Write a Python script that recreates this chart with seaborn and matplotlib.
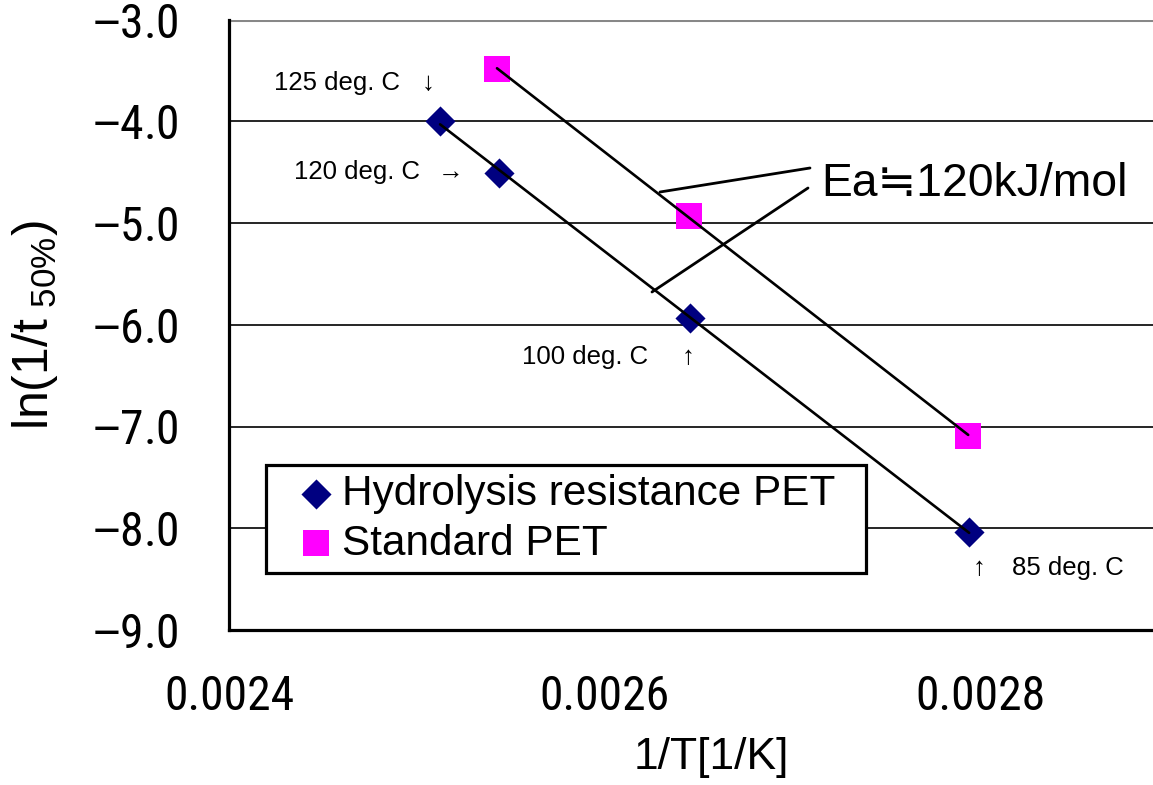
import numpy as np
import pandas as pd
import matplotlib
matplotlib.use("Agg")
import matplotlib.pyplot as plt
from matplotlib.lines import Line2D
from matplotlib import font_manager as fm
import seaborn as sns

# ---------------- data ----------------
series_names = ["Hydrolysis resistance PET", "Standard PET"]
hyd_x = [0.0025124, 0.0025438, 0.0026455, 0.0027941]
hyd_y = [-4.00, -4.51, -5.93, -8.04]
std_x = [0.0025427, 0.0026450, 0.0027936]
std_y = [-3.49, -4.93, -7.09]
temp_labels = ["125 deg. C", "120 deg. C", "100 deg. C", "85 deg. C"]
xticks = [0.0024, 0.0026, 0.0028]
xtick_labels = ["0.0024", "0.0026", "0.0028"]
yticks = [-9, -8, -7, -6, -5, -4, -3]
ytick_labels = ["9.0", "8.0", "7.0", "6.0", "5.0", "4.0", "3.0"]   # shown with a leading minus
ea_label = "Ea\u2252120kJ/mol"
x_label = "1/T[1/K]"
y_label = r"ln(1/t$_{\ 50\%}$)"

# ---------------- fonts ----------------
sns.set_theme(style="white")
installed = {f.name for f in fm.fontManager.ttflist}
narrow_pref = ["Liberation Sans Narrow", "Arial Narrow", "Roboto Condensed",
               "Open Sans Condensed", "Noto Sans Condensed", "DejaVu Sans Condensed"]
narrow = [n for n in narrow_pref if n in installed]
if not narrow:
    narrow = sorted(n for n in installed if ("Narrow" in n or "Condensed" in n)
                    and "Mono" not in n and "Serif" not in n)
narrow_fonts = narrow[:1] + ["Liberation Sans", "Noto Sans CJK JP", "DejaVu Sans"]
reg_fonts = ["Liberation Sans", "Noto Sans CJK JP", "DejaVu Sans"]
plt.rcParams["font.family"] = narrow_fonts
plt.rcParams["mathtext.default"] = "regular"
plt.rcParams["mathtext.fontset"] = "custom"
plt.rcParams["mathtext.rm"] = "Liberation Sans"
plt.rcParams["axes.unicode_minus"] = True
for k in ["text.color", "axes.labelcolor", "xtick.color", "ytick.color", "axes.edgecolor"]:
    plt.rcParams[k] = "black"

W, H = 1153, 785
fig = plt.figure(figsize=(W / 100, H / 100), dpi=100)
renderer = fig.canvas.get_renderer()


def fit_size(txt, fams, target_px, base=30.0):
    t = fig.text(0, 0, txt, fontsize=base, family=fams)
    w = t.get_window_extent(renderer=renderer).width
    t.remove()
    return base * target_px / w


tick_fs = min(fit_size("0.0024", narrow_fonts, 130), 37)
leg_fs = min(fit_size(series_names[0], reg_fonts, 492), 32)
ea_fs = min(fit_size(ea_label, reg_fonts, 306), 34)

ax = fig.add_axes([229 / W, 1 - 630 / H, 924 / W, 610.5 / H])

sns.scatterplot(x=hyd_x, y=hyd_y, marker="D", color="#000080", s=235, linewidth=0,
                ax=ax, label=series_names[0], zorder=3)
sns.scatterplot(x=std_x, y=std_y, marker="s", color="#FF00FF", s=360, linewidth=0,
                ax=ax, label=series_names[1], zorder=3)
# linear regression trend lines drawn above the markers
sns.regplot(x=hyd_x, y=hyd_y, scatter=False, ci=None, truncate=True, color="black",
            line_kws=dict(lw=1.9, zorder=4), ax=ax)
sns.regplot(x=std_x, y=std_y, scatter=False, ci=None, truncate=True, color="black",
            line_kws=dict(lw=1.9, zorder=4), ax=ax)

ax.set_xlim(0.0024, 0.002892)
ax.set_ylim(-9, -3)
ax.set_xticks(xticks)
ax.set_xticklabels(xtick_labels)
ax.set_yticks(yticks)
ax.set_yticklabels([r"$\mathrm{-}$" + s for s in ytick_labels])
ax.tick_params(axis="both", direction="in", length=13, width=2.2, colors="black",
               labelsize=tick_fs)
ax.tick_params(axis="y", pad=36)
ax.tick_params(axis="x", pad=32)

ax.yaxis.grid(True, color="black", lw=1.2, zorder=0)
ax.xaxis.grid(False)
ax.set_axisbelow(True)
for gl, v in zip(ax.get_ygridlines(), yticks):
    if v == -3:
        gl.set_color("#888888")
        gl.set_linewidth(2.2)

for s in ["top", "right"]:
    ax.spines[s].set_visible(False)
for s in ["left", "bottom"]:
    ax.spines[s].set_color("black")
    ax.spines[s].set_linewidth(2.3)

ax.set_xlabel(x_label, fontsize=32, family=reg_fonts)
ax.set_ylabel(y_label, fontsize=36, family=reg_fonts)
ax.yaxis.label.set_va("center")
ax.yaxis.set_label_coords((35 - 229) / 924, (630 - 325) / 610.5)
ax.xaxis.label.set_va("center")
ax.xaxis.set_label_coords((711 - 229) / 924, -(757 - 630) / 610.5)

# legend box: 266..866 x 465..572 px
leg = ax.legend(loc="upper left",
                bbox_to_anchor=((266 - 229) / 924, (630 - 572) / 610.5,
                                600 / 924, 107 / 610.5),
                mode="expand", frameon=True, fancybox=False, edgecolor="black",
                framealpha=1, prop=dict(family=reg_fonts, size=leg_fs),
                borderaxespad=0, borderpad=0.22, handletextpad=-0.36,
                labelspacing=0.22, handlelength=1.95, markerscale=1.0)
leg.get_frame().set_linewidth(2.3)
for t in leg.get_texts():
    t.set_color("black")

# temperature annotations (offsets from data points, in pixels)
small = dict(fontsize=18.5, family=["Liberation Sans", "DejaVu Sans"], color="black")


def note(txt, i, dx, dy, ha):
    ax.annotate(txt, xy=(hyd_x[i], hyd_y[i]), xytext=(dx, dy), textcoords="offset pixels",
                ha=ha, va="center", **small)


note(temp_labels[0], 0, -40, 38, "right")
note("\u2193", 0, -12, 38, "center")
note(temp_labels[1], 1, -79, 1, "right")
note("\u2192", 1, -48, 1, "center")
note(temp_labels[2], 2, -42, -39, "right")
note("\u2191", 2, -2, -39, "center")
note("\u2191", 3, 10, -36, "center")
note(temp_labels[3], 3, 43, -36, "left")

# Ea callout
for (x0, y0, x1, y1) in [(660, 192, 810, 168), (652, 292, 808, 188)]:
    fig.add_artist(Line2D([x0 / W, x1 / W], [1 - y0 / H, 1 - y1 / H],
                          transform=fig.transFigure, color="black", lw=2.0))
fig.text(821 / W, 1 - 184 / H, ea_label, fontsize=ea_fs, ha="left", va="center",
         family=reg_fonts)

fig.savefig("out.png", dpi=100)
